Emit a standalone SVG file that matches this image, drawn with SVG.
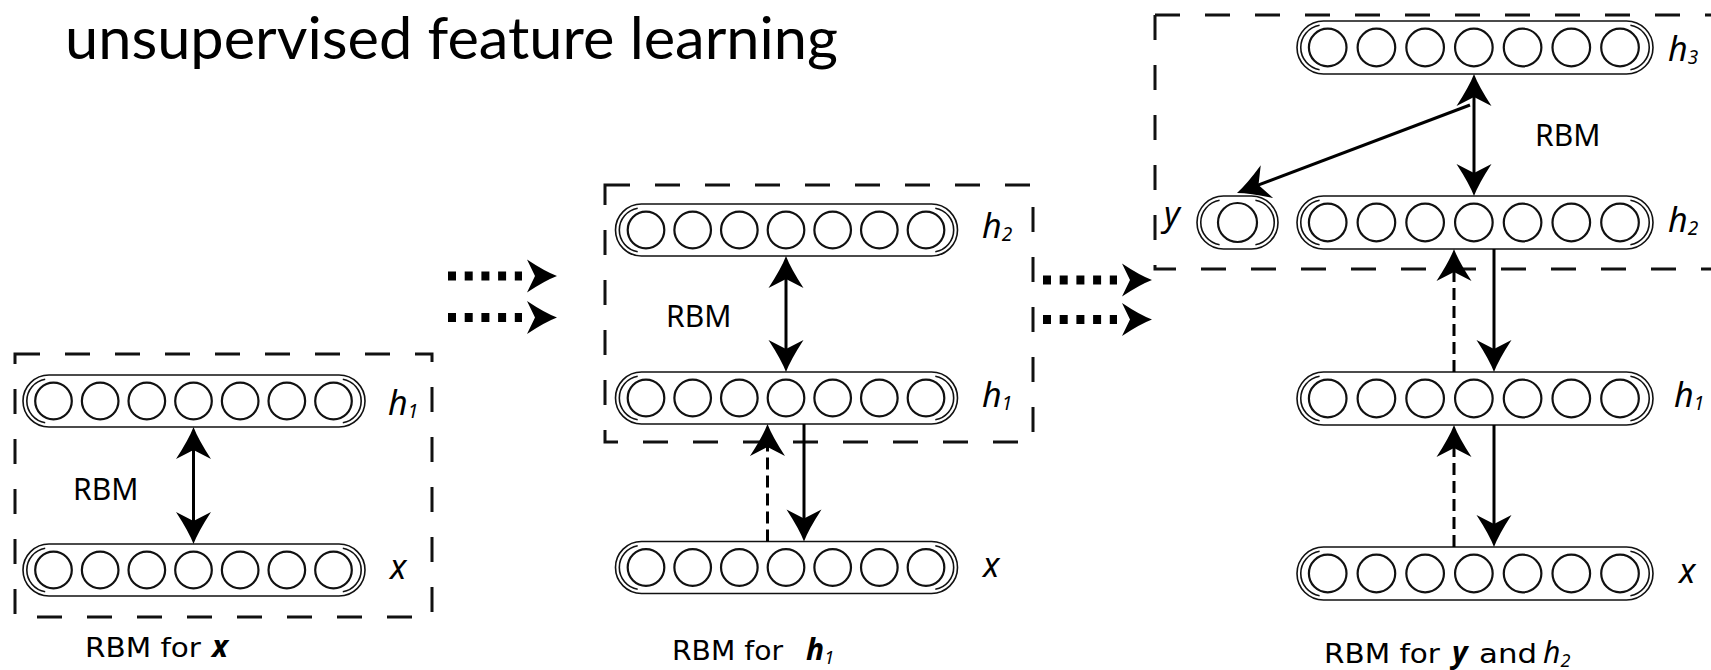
<svg xmlns="http://www.w3.org/2000/svg" width="1711" height="670" viewBox="0 0 1711 670">
<style>
  .pill{fill:none;stroke:#111;stroke-width:1.6}
  .unit{fill:none;stroke:#111;stroke-width:2.2}
  .box{fill:none;stroke:#111;stroke-width:3;stroke-dasharray:25 25}
  .arr{fill:none;stroke:#000;stroke-width:3}
  .dsh{stroke-dasharray:12 6}
  .dots{fill:none;stroke:#000;stroke-width:9;stroke-dasharray:8 8.7}
  .lbl{font-family:"Noto Sans","DejaVu Sans",sans-serif;font-style:italic;font-size:34px;fill:#000}
  .sub{font-size:19px}
  .rbm{font-family:"Noto Sans","DejaVu Sans",sans-serif;font-size:30px;fill:#000}
  .cap{font-family:"DejaVu Sans","Noto Sans",sans-serif;font-size:26px;fill:#000}
  .capv{font-family:"Noto Sans","DejaVu Sans",sans-serif;font-size:30px;font-style:italic;font-weight:bold;fill:#000}
  .capi{font-family:"Noto Sans","DejaVu Sans",sans-serif;font-size:30px;font-style:italic;fill:#000}
  .title{font-family:Lato,"Open Sans",sans-serif;font-size:58px;fill:#000}
</style>
<defs>
  <marker id="ah" markerUnits="userSpaceOnUse" markerWidth="50" markerHeight="50" viewBox="-40 -25 50 50" refX="-6" refY="0" orient="auto-start-reverse" overflow="visible">
    <path d="M0,0 Q-12,-4.5 -32,-17.5 L-23,0 L-32,17.5 Q-12,4.5 0,0 Z" fill="#000"/>
  </marker>
  <marker id="dh" markerUnits="userSpaceOnUse" markerWidth="50" markerHeight="50" viewBox="-40 -25 50 50" refX="-35" refY="0" orient="auto" overflow="visible">
    <path d="M0,0 Q-12,-4.5 -30,-16.5 L-22,0 L-30,16.5 Q-12,4.5 0,0 Z" fill="#000"/>
  </marker>
  <g id="layA">
    <rect class="pill" x="0" y="0" width="342" height="52" rx="26"/>
    <path class="pill" d="M22.2,4.3 A22,22 0 0 0 22.2,47.7 M319.8,4.3 A22,22 0 0 1 319.8,47.7"/>
    <circle class="unit" cx="30.5" cy="26" r="18.3"/>
    <circle class="unit" cx="77.17" cy="26" r="18.3"/>
    <circle class="unit" cx="123.83" cy="26" r="18.3"/>
    <circle class="unit" cx="170.5" cy="26" r="18.3"/>
    <circle class="unit" cx="217.17" cy="26" r="18.3"/>
    <circle class="unit" cx="263.83" cy="26" r="18.3"/>
    <circle class="unit" cx="310.5" cy="26" r="18.3"/>
  </g>
  <g id="layB">
    <rect class="pill" x="0" y="0" width="356" height="53" rx="26.5"/>
    <path class="pill" d="M22.6,4.3 A22.5,22.5 0 0 0 22.6,48.7 M333.4,4.3 A22.5,22.5 0 0 1 333.4,48.7"/>
    <circle class="unit" cx="30.7" cy="26.5" r="18.8"/>
    <circle class="unit" cx="79.42" cy="26.5" r="18.8"/>
    <circle class="unit" cx="128.14" cy="26.5" r="18.8"/>
    <circle class="unit" cx="176.86" cy="26.5" r="18.8"/>
    <circle class="unit" cx="225.58" cy="26.5" r="18.8"/>
    <circle class="unit" cx="274.3" cy="26.5" r="18.8"/>
    <circle class="unit" cx="323.02" cy="26.5" r="18.8"/>
  </g>
</defs>

<rect width="1711" height="670" fill="#fff"/>

<text class="title" x="65" y="59" textLength="773" lengthAdjust="spacingAndGlyphs">unsupervised feature learning</text>

<g id="frames">
  <rect class="box" x="15" y="354" width="417" height="263"/>
  <rect class="box" x="605" y="185" width="428" height="257"/>
  <path class="box" d="M1155,15 H1720 M1155,15 V269 H1720"/>
</g>

<g id="col1-h1"><use href="#layA" x="23" y="375"/><text class="lbl" x="388" y="415">h<tspan class="sub" dy="3">1</tspan></text></g>
<g id="col1-x"><use href="#layA" x="23" y="544"/><text class="lbl" x="390" y="579">x</text></g>
<g id="col1-labels">
  <text class="rbm" x="73" y="500">RBM</text>
  <text class="cap" x="85" y="657" textLength="116" lengthAdjust="spacingAndGlyphs">RBM for</text>
  <text class="capv" x="212" y="657">x</text>
</g>

<g id="col2-h2"><use href="#layA" x="615.5" y="204"/><text class="lbl" x="982" y="238">h<tspan class="sub" dy="3">2</tspan></text></g>
<g id="col2-h1"><use href="#layA" x="615.5" y="372"/><text class="lbl" x="982" y="407">h<tspan class="sub" dy="3">1</tspan></text></g>
<g id="col2-x"><use href="#layA" x="615.5" y="541.5"/><text class="lbl" x="983" y="577">x</text></g>
<g id="col2-labels">
  <text class="rbm" x="666" y="327">RBM</text>
  <text class="cap" x="672" y="660" textLength="111" lengthAdjust="spacingAndGlyphs">RBM for</text>
  <text class="capv" x="806" y="660">h<tspan font-size="18" font-weight="normal" dy="4">1</tspan></text>
</g>

<g id="col3-h3"><use href="#layB" x="1297" y="21"/><text class="lbl" x="1668" y="61">h<tspan class="sub" dy="3">3</tspan></text></g>
<g id="col3-y"><rect class="pill" x="1197" y="196" width="81" height="53" rx="26.5"/><path class="pill" d="M1219.6,200.3 A22.5,22.5 0 0 0 1219.6,244.7 M1255.4,200.3 A22.5,22.5 0 0 1 1255.4,244.7"/><circle class="unit" cx="1237.5" cy="222.5" r="19.5"/><text class="lbl" x="1164" y="226">y</text></g>
<g id="col3-h2"><use href="#layB" x="1297" y="196"/><text class="lbl" x="1668" y="232">h<tspan class="sub" dy="3">2</tspan></text></g>
<g id="col3-h1"><use href="#layB" x="1297" y="372"/><text class="lbl" x="1674" y="407">h<tspan class="sub" dy="3">1</tspan></text></g>
<g id="col3-x"><use href="#layB" x="1297" y="547"/><text class="lbl" x="1679" y="583">x</text></g>
<g id="col3-labels">
  <text class="rbm" x="1535" y="146">RBM</text>
  <text class="cap" x="1324" y="663" textLength="116" lengthAdjust="spacingAndGlyphs">RBM for</text>
  <text class="capv" x="1452" y="663">y</text>
  <text class="cap" x="1479" y="663" textLength="58" lengthAdjust="spacingAndGlyphs">and</text>
  <text class="capi" x="1543" y="663">h<tspan font-size="18" dy="4">2</tspan></text>
</g>

<g id="connectors">
  <line class="arr" x1="193.5" y1="433" x2="193.5" y2="538" marker-start="url(#ah)" marker-end="url(#ah)"/>
  <line class="arr" x1="786" y1="262" x2="786" y2="366" marker-start="url(#ah)" marker-end="url(#ah)"/>
  <line class="arr dsh" x1="767.5" y1="541.5" x2="767.5" y2="430" marker-end="url(#ah)"/>
  <line class="arr" x1="804" y1="424" x2="804" y2="535.5" marker-end="url(#ah)"/>
  <line class="arr" x1="1474" y1="80" x2="1474" y2="190" marker-start="url(#ah)" marker-end="url(#ah)"/>
  <line class="arr" x1="1470" y1="105" x2="1242.6" y2="190.9" marker-end="url(#ah)"/>
  <line class="arr dsh" x1="1454" y1="372" x2="1454" y2="255" marker-end="url(#ah)"/>
  <line class="arr" x1="1494" y1="249" x2="1494" y2="366" marker-end="url(#ah)"/>
  <line class="arr dsh" x1="1454" y1="547" x2="1454" y2="431" marker-end="url(#ah)"/>
  <line class="arr" x1="1494" y1="425" x2="1494" y2="541" marker-end="url(#ah)"/>
  <line class="dots" x1="448" y1="276" x2="522" y2="276" marker-end="url(#dh)"/>
  <line class="dots" x1="448" y1="317.5" x2="522" y2="317.5" marker-end="url(#dh)"/>
  <line class="dots" x1="1043" y1="280" x2="1117" y2="280" marker-end="url(#dh)"/>
  <line class="dots" x1="1043" y1="319.5" x2="1117" y2="319.5" marker-end="url(#dh)"/>
</g>
</svg>
